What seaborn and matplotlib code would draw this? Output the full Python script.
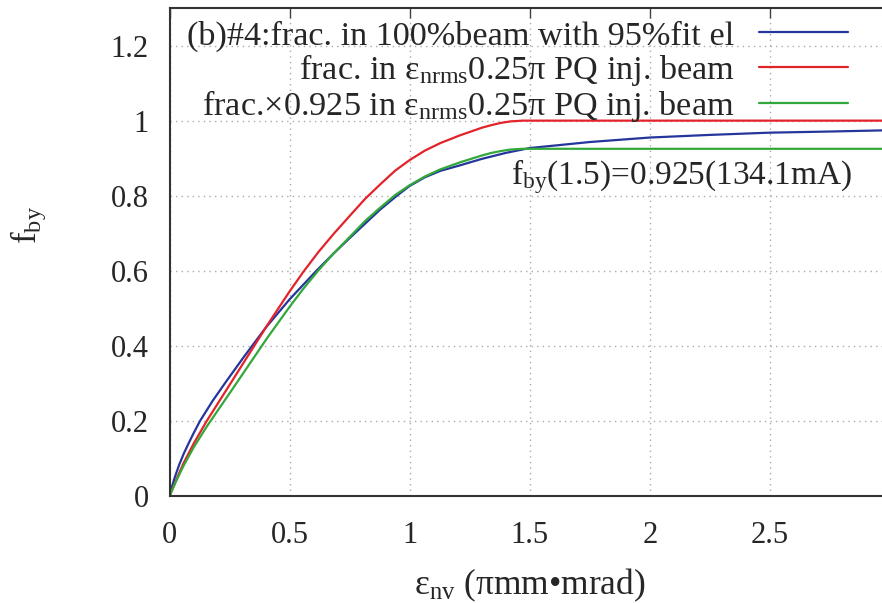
import pandas as pd
import seaborn as sns
import matplotlib.pyplot as plt

# values
labels = [
    r'(b)#4:frac. in 100%beam with 95%fit el',
    r'frac. in $\mathrm{ε}_{\mathrm{nrms}}$0.25π PQ inj. beam',
    r'frac.×0.925 in $\mathrm{ε}_{\mathrm{nrms}}$0.25π PQ inj. beam',
]
colors = ['#24369c', '#e3232a', '#33a83a']

blue_x = [0, 0.01, 0.02, 0.04, 0.06, 0.08, 0.1, 0.127, 0.18, 0.238, 0.31, 0.4, 0.5,
          0.613, 0.683, 0.75, 0.877, 0.947, 1.0, 1.063, 1.127, 1.21, 1.3, 1.4, 1.5,
          1.75, 2.0, 2.25, 2.5, 2.75, 2.967]
blue_y = [0, 0.024, 0.046, 0.083, 0.114, 0.141, 0.167, 0.2, 0.254, 0.307, 0.371, 0.448,
          0.524, 0.601, 0.646, 0.687, 0.763, 0.8, 0.826, 0.849, 0.866, 0.881, 0.898,
          0.914, 0.927, 0.943, 0.955, 0.962, 0.968, 0.971, 0.974]

red_x = [0, 0.03, 0.058, 0.1, 0.155, 0.259, 0.328, 0.41, 0.5, 0.557, 0.62, 0.683,
         0.75, 0.815, 0.877, 0.94, 1.0, 1.063, 1.127, 1.21, 1.26, 1.3, 1.34, 1.38,
         1.42, 1.47, 2.0, 2.5, 2.967]
red_y = [0, 0.046, 0.087, 0.139, 0.2, 0.305, 0.375, 0.458, 0.545, 0.597, 0.65, 0.698,
         0.746, 0.792, 0.83, 0.867, 0.895, 0.92, 0.94, 0.961, 0.972, 0.981, 0.988,
         0.994, 0.998, 1.0, 1.0, 1.0, 1.0]

green_x = red_x
green_y = [0, 0.043, 0.08, 0.129, 0.185, 0.282, 0.347, 0.424, 0.504, 0.552, 0.601,
           0.646, 0.69, 0.733, 0.768, 0.802, 0.828, 0.851, 0.87, 0.889, 0.899, 0.907,
           0.914, 0.919, 0.923, 0.925, 0.925, 0.925, 0.925]

xticks = [0, 0.5, 1, 1.5, 2, 2.5]
yticks = [0, 0.2, 0.4, 0.6, 0.8, 1, 1.2]
xticklabels = ['0', '0.5', '1', '1.5', '2', '2.5']
yticklabels = ['0', '0.2', '0.4', '0.6', '0.8', '1', '1.2']

frames = []
for lab, xs, ys in zip(labels, [blue_x, red_x, green_x], [blue_y, red_y, green_y]):
    frames.append(pd.DataFrame({'x': xs, 'y': ys, 'series': lab}))
df = pd.concat(frames, ignore_index=True)

sns.set_style('white')
plt.rcParams['font.family'] = ['Liberation Serif', 'DejaVu Serif']
plt.rcParams['mathtext.fontset'] = 'custom'
plt.rcParams['mathtext.rm'] = 'Liberation Serif'
plt.rcParams['mathtext.it'] = 'Liberation Serif:italic'

fig = plt.figure(figsize=(8.82, 6.03), dpi=100)
ax = fig.add_axes([0.1922, 0.1774, 0.8078, 0.8093])

sns.lineplot(data=df, x='x', y='y', hue='series', palette=colors,
             estimator=None, sort=False, linewidth=1.6, ax=ax, legend=False)

ax.set_xlim(0, 2.967)
ax.set_ylim(0, 1.3)
ax.set_xticks(xticks)
ax.set_xticklabels(xticklabels)
ax.set_yticks(yticks)
ax.set_yticklabels(yticklabels)
ax.tick_params(direction='in', length=7, width=1, color='#444444',
               labelsize=22, top=True, right=False, pad=18)
ax.tick_params(axis='y', pad=15)
ax.grid(True, linestyle=(0, (1, 3)), color='#aaaaaa', linewidth=1)

for side in ['left', 'top', 'bottom']:
    ax.spines[side].set_color('#333333')
    ax.spines[side].set_linewidth(1.5)
ax.spines['right'].set_visible(False)

ax.set_xlabel(r'$\mathrm{ε}_{\mathrm{nv}}$ (πmm•mrad)', fontsize=25.5)
ax.set_ylabel(r'$\mathrm{f}_{\mathrm{by}}$', fontsize=25)
ax.xaxis.set_label_coords(0.505, -0.145)
ax.yaxis.set_label_coords(-0.17, 0.555)

ax.text(1.42, 0.85, r'$\mathrm{f}_{\mathrm{by}}$(1.5)=0.925(134.1mA)',
        fontsize=24, ha='left', va='center')

handles = ax.get_lines()[:3]
ax.legend(handles, labels, loc='upper right', bbox_to_anchor=(0.952, 0.975),
          frameon=False, markerfirst=False, fontsize=24.7, handlelength=2.6,
          handletextpad=0.7, borderpad=0, borderaxespad=0, labelspacing=0.0)

plt.savefig('out.png', dpi=100)
plt.close()
